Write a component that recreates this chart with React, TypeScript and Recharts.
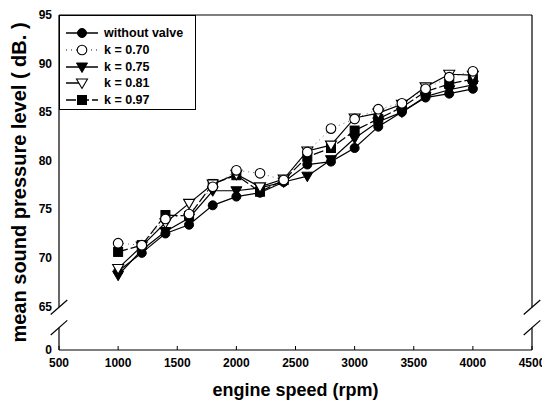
import React from 'react';
import { LineChart, Line, XAxis, YAxis, ReferenceLine, Legend } from 'recharts';

// engine speed (rpm)
const rpm = [1000, 1200, 1400, 1600, 1800, 2000, 2200, 2400, 2600, 2800, 3000, 3200, 3400, 3600, 3800, 4000];

// mean sound pressure level (dB)
const withoutValve = [68.6, 70.5, 72.5, 73.4, 75.4, 76.3, 76.7, 77.8, 79.6, 79.9, 81.3, 83.5, 85.0, 86.5, 86.9, 87.4];
const k070 = [71.5, 71.3, 74.0, 74.5, 77.3, 79.0, 78.7, 78.0, 80.9, 83.3, 84.3, 85.3, 85.9, 87.4, 88.6, 89.2];
const k075 = [68.2, 70.8, 72.7, 74.1, 76.9, 76.9, 77.2, 77.8, 78.4, 80.1, 82.3, 84.0, 85.0, 86.6, 87.3, 87.8];
const k081 = [68.9, 71.2, 73.6, 75.6, 77.6, 78.6, 77.3, 78.1, 81.0, 81.6, 84.4, 84.9, 85.8, 87.6, 88.9, 88.8];
const k097 = [70.6, 71.3, 74.4, 74.3, 77.6, 78.5, 76.8, 78.0, 80.4, 81.3, 83.1, 84.3, 85.5, 87.1, 87.9, 88.4];

const xTicks = [500, 1000, 1500, 2000, 2500, 3000, 3500, 4000, 4500];
// bottom of the broken axis stands for 0
const Y_BREAK_BOTTOM = 60.5;
const yTicks = [Y_BREAK_BOTTOM, 65, 70, 75, 80, 85, 90, 95];

const data = rpm.map((r, i) => ({
  rpm: r,
  wv: withoutValve[i],
  k070: k070[i],
  k075: k075[i],
  k081: k081[i],
  k097: k097[i],
}));

type Kind = 'circle' | 'openCircle' | 'tri' | 'openTri' | 'square';

const Marker = ({ cx, cy, kind }: { cx: number; cy: number; kind: Kind }) => {
  if (cx == null || cy == null) return null;
  switch (kind) {
    case 'circle':
      return <circle cx={cx} cy={cy} r={4.5} fill="#000" stroke="#000" />;
    case 'openCircle':
      return <circle cx={cx} cy={cy} r={4.8} fill="#fff" stroke="#000" strokeWidth={1.1} />;
    case 'tri':
      return <path d={`M${cx - 5.5},${cy - 4} L${cx + 5.5},${cy - 4} L${cx},${cy + 5.5} Z`} fill="#000" stroke="#000" />;
    case 'openTri':
      return <path d={`M${cx - 5.5},${cy - 4} L${cx + 5.5},${cy - 4} L${cx},${cy + 5.5} Z`} fill="#fff" stroke="#000" strokeWidth={1.1} />;
    default:
      return <rect x={cx - 4.5} y={cy - 4.5} width={9} height={9} fill="#000" stroke="#000" />;
  }
};

const series: { key: string; name: string; kind: Kind; dash?: string; width: number }[] = [
  { key: 'wv', name: 'without valve', kind: 'circle', width: 1.2 },
  { key: 'k075', name: 'k = 0.75', kind: 'tri', width: 1.2 },
  { key: 'k097', name: 'k = 0.97', kind: 'square', dash: '10 3', width: 1.2 },
  { key: 'k081', name: 'k = 0.81', kind: 'openTri', width: 1.2 },
  { key: 'k070', name: 'k = 0.70', kind: 'openCircle', dash: '1 4', width: 0.6 },
];

const legendOrder = ['wv', 'k070', 'k075', 'k081', 'k097'];

const LegendBox = () => (
  <div
    style={{
      width: 137,
      height: 95,
      boxSizing: 'border-box',
      border: '1px solid #000',
      background: '#fff',
      paddingTop: 9,
      fontFamily: '"Liberation Sans", Arial, sans-serif',
      fontWeight: 700,
      fontSize: 12.5,
    }}
  >
    {legendOrder.map((k) => {
      const s = series.find((x) => x.key === k)!;
      return (
        <div key={k} style={{ display: 'flex', alignItems: 'center', height: 16.7 }}>
          <svg width={44} height={14} style={{ flex: 'none' }}>
            <line
              x1={6}
              y1={7}
              x2={s.kind === 'openTri' ? 22 : 38}
              y2={7}
              stroke="#000"
              strokeWidth={s.width + 0.3}
              strokeDasharray={s.dash}
            />
            <Marker cx={22} cy={7} kind={s.kind} />
          </svg>
          <span>{s.name}</span>
        </div>
      );
    })}
  </div>
);

const axisFont = { fontFamily: '"Liberation Sans", Arial, sans-serif', fontSize: 12, fontWeight: 700, fill: '#000' };
const titleFont = { fontFamily: '"Liberation Sans", Arial, sans-serif', fontSize: 18, fontWeight: 700, fill: '#000' };

// slash marks of the axis break, in data units
const dx = 70;
const dy = 0.75;
const breakTop = 64.9;
const breakBottom = 62.8;

export default function App() {
  return (
    <div style={{ background: '#fff' }}>
      <LineChart width={542} height={399} data={data} margin={{ top: 7, right: 18, bottom: 27, left: 23 }}>
        <XAxis
          dataKey="rpm"
          type="number"
          domain={[500, 4500]}
          ticks={xTicks}
          interval={0}
          allowDataOverflow
          height={30}
          tickSize={-4}
          tickMargin={12}
          tick={axisFont}
          axisLine={{ stroke: '#000', strokeWidth: 1.2 }}
          tickLine={{ stroke: '#000' }}
          label={{ value: 'engine speed (rpm)', position: 'bottom', offset: 3, style: titleFont }}
        />
        <YAxis
          type="number"
          domain={[Y_BREAK_BOTTOM, 95]}
          ticks={yTicks}
          interval={0}
          allowDataOverflow
          width={28}
          tickSize={0}
          tickMargin={7}
          tick={axisFont}
          axisLine={false}
          tickLine={false}
          tickFormatter={(v: number) => (v < 61 ? '0' : String(v))}
          label={{
            value: 'mean sound pressure level ( dB. )',
            angle: -90,
            position: 'left',
            offset: 12,
            style: { ...titleFont, fontSize: 20, textAnchor: 'middle' },
          }}
        />
        {/* frame */}
        <ReferenceLine y={95} stroke="#000" strokeWidth={1.2} />
        {[500, 4500].map((x) => (
          <ReferenceLine
            key={`u${x}`}
            segment={[{ x, y: breakTop }, { x, y: 95 }]}
            stroke="#000"
            strokeWidth={1.2}
            ifOverflow="visible"
          />
        ))}
        {[500, 4500].map((x) => (
          <ReferenceLine
            key={`l${x}`}
            segment={[{ x, y: Y_BREAK_BOTTOM }, { x, y: breakBottom }]}
            stroke="#000"
            strokeWidth={1.2}
            ifOverflow="visible"
          />
        ))}
        {[500, 4500].flatMap((x) =>
          [breakTop, breakBottom].map((y) => (
            <ReferenceLine
              key={`s${x}-${y}`}
              segment={[{ x: x - dx, y: y - dy }, { x: x + dx, y: y + dy }]}
              stroke="#000"
              strokeWidth={1.2}
              ifOverflow="visible"
            />
          ))
        )}
        {series.map((s) => (
          <Line
            key={s.key}
            dataKey={s.key}
            name={s.name}
            type="linear"
            stroke="#000"
            strokeWidth={s.width}
            strokeDasharray={s.dash}
            isAnimationActive={false}
            dot={(p: any) => <Marker key={`${s.key}-${p.index}`} cx={p.cx} cy={p.cy} kind={s.kind} />}
            activeDot={false}
          />
        ))}
        <Legend
          layout="horizontal"
          verticalAlign="middle"
          align="center"
          content={() => <LegendBox />}
          wrapperStyle={{ left: 51, top: 7, width: 137, height: 95 }}
        />
      </LineChart>
    </div>
  );
}
